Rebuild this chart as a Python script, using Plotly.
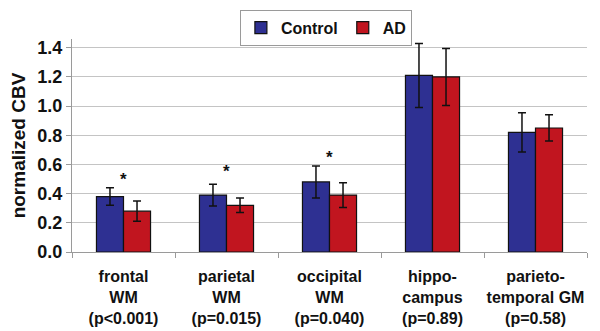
import plotly.graph_objects as go

categories = ["frontal<br>WM<br>(p<0.001)", "parietal<br>WM<br>(p=0.015)",
              "occipital<br>WM<br>(p=0.040)", "hippo-<br>campus<br>(p=0.89)",
              "parieto-<br>temporal GM<br>(p=0.58)"]
control = [0.38, 0.39, 0.48, 1.21, 0.82]
control_err = [0.06, 0.075, 0.11, 0.22, 0.135]
ad = [0.28, 0.32, 0.39, 1.20, 0.85]
ad_err = [0.07, 0.05, 0.085, 0.195, 0.09]
star_cats = [0, 1, 2]
star_y = [0.50, 0.55, 0.65]
y_ticks = [0.0, 0.2, 0.4, 0.6, 0.8, 1.0, 1.2, 1.4]

font = "Liberation Sans, Arial, sans-serif"
ink = "#111111"

fig = go.Figure()
fig.add_bar(x=categories, y=control, name="Control",
            marker=dict(color="#2E3092", line=dict(color=ink, width=1.2)),
            error_y=dict(type="data", array=control_err, color=ink, thickness=1.5, width=4))
fig.add_bar(x=categories, y=ad, name="AD",
            marker=dict(color="#C1151F", line=dict(color=ink, width=1.2)),
            error_y=dict(type="data", array=ad_err, color=ink, thickness=1.5, width=4))

for i, yv in zip(star_cats, star_y):
    fig.add_annotation(x=categories[i], y=yv, text="*", showarrow=False,
                       font=dict(family=font, size=17, color=ink, weight="bold"),
                       yanchor="middle")

# the page body has an 8px margin, so the plot is offset to compensate
fig.update_layout(
    width=600, height=331,
    margin=dict(l=64, r=21, t=31, b=87, autoexpand=False),
    paper_bgcolor="white", plot_bgcolor="white",
    barmode="group", bargap=0.475, bargroupgap=0,
    font=dict(family=font, size=16, color=ink, weight="bold"),
    showlegend=True,
    legend=dict(orientation="h", x=0.493, xanchor="center", y=1.137, yanchor="top",
                bordercolor="#9a9a9a", borderwidth=1, bgcolor="white",
                font=dict(family=font, size=16, color=ink, weight="bold"),
                itemwidth=30, tracegroupgap=0),
)
fig.update_xaxes(showgrid=False, showline=True, linecolor="#9a9a9a", linewidth=1,
                 ticks="outside", tickson="boundaries", ticklen=5, tickcolor="#9a9a9a",
                 automargin=False, tickangle=0, ticklabelstandoff=10,
                 tickfont=dict(family=font, size=16, color=ink, weight="bold"))
fig.update_yaxes(range=[0, 1.46], tickvals=y_ticks, tickformat=".1f",
                 showgrid=True, gridcolor="#c4c4c4", gridwidth=1,
                 showline=True, linecolor="#9a9a9a", linewidth=1,
                 ticks="outside", ticklen=5, tickcolor="#9a9a9a",
                 zeroline=False, automargin=False,
                 tickfont=dict(family=font, size=18, color=ink, weight="bold"),
                 title=dict(text="normalized CBV",
                            font=dict(family=font, size=19, color=ink, weight="bold"),
                            standoff=6))

fig.write_html("out.html")
